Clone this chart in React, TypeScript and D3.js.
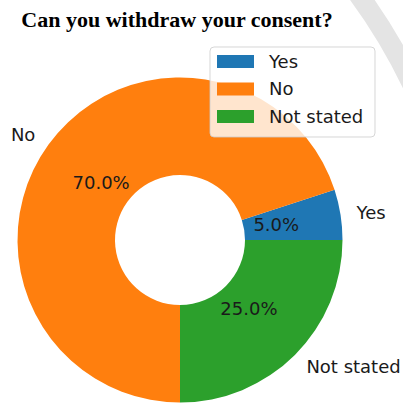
import React from "react";
import * as d3 from "d3";

const categories = ["Yes", "No", "Not stated"];
const values = [5, 70, 25];
const colors = ["#1f77b4", "#ff7f0e", "#2ca02c"];
const title = "Can you withdraw your consent?";

export default function App() {
  const W = 403, H = 403;
  const cx = 180, cy = 240;
  const R = 162.5;
  const rInner = R * 0.4;
  const total = d3.sum(values);

  const pie = d3
    .pie<number>()
    .sort(null)
    .value((d) => d)
    .startAngle(Math.PI / 2)
    .endAngle(Math.PI / 2 - 2 * Math.PI);
  const arcs = pie(values);
  const arc = d3.arc<d3.PieArcDatum<number>>().innerRadius(rInner).outerRadius(R);

  const pos = (a: number, r: number) => [r * Math.sin(a), -r * Math.cos(a)];
  const font = "'DejaVu Sans', sans-serif";
  const fs = 18;

  const legendX = 210, legendY = 47;
  const rowH = 27.5;

  return (
    <svg
      width={W}
      height={H}
      viewBox={`0 0 ${W} ${H}`}
      style={{ position: "absolute", left: 0, top: 0 }}
    >
      <rect width={W} height={H} fill="#fff" />
      {/* decorative background ring */}
      <circle cx={-100} cy={330} r={568} fill="none" stroke="#e4e4e4" strokeWidth={20} />
      <text
        x={177}
        y={27}
        textAnchor="middle"
        fontFamily="'Liberation Serif', 'Times New Roman', serif"
        fontWeight="bold"
        fontSize={22}
        fill="#000"
      >
        {title}
      </text>
      <g transform={`translate(${cx},${cy})`}>
        {arcs.map((d, i) => (
          <path key={i} d={arc(d) || ""} fill={colors[i]} />
        ))}
        {arcs.map((d, i) => {
          const mid = (d.startAngle + d.endAngle) / 2;
          const [px, py] = pos(mid, R * 0.6);
          const [lx, ly] = pos(mid, R * 1.1);
          return (
            <g key={"t" + i} fontFamily={font} fontSize={fs} fill="#1a1a1a">
              <text x={px} y={py} textAnchor="middle" dy="0.36em">
                {((values[i] / total) * 100).toFixed(1) + "%"}
              </text>
              <text x={lx} y={ly} textAnchor={lx > 0 ? "start" : "end"} dy="0.36em">
                {categories[i]}
              </text>
            </g>
          );
        })}
      </g>
      <g>
        <rect
          x={legendX}
          y={legendY}
          width={165}
          height={90}
          rx={4}
          fill="#fff"
          fillOpacity={0.8}
          stroke="#cccccc"
          strokeOpacity={0.8}
        />
        {categories.map((c, i) => (
          <g key={c} transform={`translate(${legendX + 7},${legendY + 8 + i * rowH})`}>
            <rect width={37} height={13} fill={colors[i]} />
            <text x={52} y={6.5} dy="0.36em" fontFamily={font} fontSize={fs} fill="#1a1a1a">
              {c}
            </text>
          </g>
        ))}
      </g>
    </svg>
  );
}
